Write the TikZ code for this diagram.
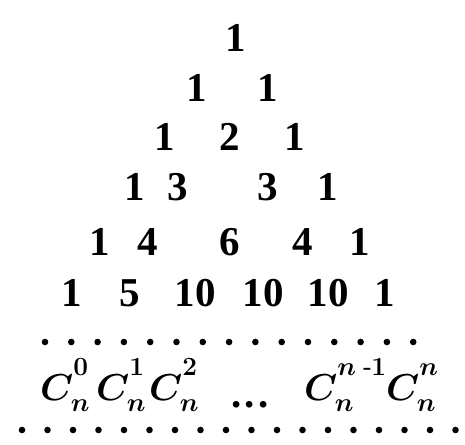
\RequirePackage{fix-cm}
\documentclass[tikz,border=0pt]{standalone}
\usepackage{fontspec}
\setmainfont{Liberation Serif}
\usepackage{amsmath}
\usepackage{tikz}
\newcommand{\pasC}[2]{$C_{#1}^{\raisebox{9pt}{$\scriptstyle #2$}}$}
\tikzset{
    numEntry/.style={
        inner sep=0pt,
        font=\fontsize{35}{40}\selectfont\bfseries
    },
    binomEntry/.style={
        inner sep=0pt,
        font=\fontsize{32}{38}\selectfont\boldmath
    },
    rowDot/.style={
        fill=black
    }
}

\begin{document}
\begin{tikzpicture}[x=0.03cm,y=-0.03cm]
        \useasboundingbox (0,0) rectangle (465,445);

        % rows of the triangle
        \node[numEntry] (r1n1) at (236,38) {1};
        \foreach \px/\val [count=\i] in {197/1,268/1}
            \node[numEntry] (r2n\i) at (\px,88) {\val};
        \foreach \px/\val [count=\i] in {165/1,230/2,295/1}
            \node[numEntry] (r3n\i) at (\px,137) {\val};
        \foreach \px/\val [count=\i] in {135/1,178/3,268/3,328/1}
            \node[numEntry] (r4n\i) at (\px,187) {\val};
        \foreach \px/\val [count=\i] in {100/1,148/4,230/6,303/4,360/1}
            \node[numEntry] (r5n\i) at (\px,242) {\val};
        \foreach \px/\val [count=\i] in {72/1,130/5,195/10,263/10,328/10,385/1}
            \node[numEntry] (r6n\i) at (\px,293) {\val};

        % dotted rows
        \foreach \i in {0,...,14}
            \fill[rowDot] (45+26.3*\i,342) circle (3.3);
        \foreach \i in {0,...,17}
            \fill[rowDot] (22+25.5*\i,430) circle (3.3);

        % general row
        \node[binomEntry,anchor=base west] (c0) at (40,400) {\pasC{n}{0}};
        \node[binomEntry,anchor=base west] (c1) at (96,400) {\pasC{n}{1}};
        \node[binomEntry,anchor=base west] (c2) at (149,400) {\pasC{n}{2}};
        \node[numEntry,anchor=base] (cdots) at (250,407) {.\hspace{3pt}.\hspace{3pt}.};
        \node[binomEntry,anchor=base west] (cm) at (304,400) {\pasC{n}{n\text{ -}1}};
        \node[binomEntry,anchor=base west] (cn) at (386,400) {\pasC{n}{n}};
    \end{tikzpicture}
\end{document}
